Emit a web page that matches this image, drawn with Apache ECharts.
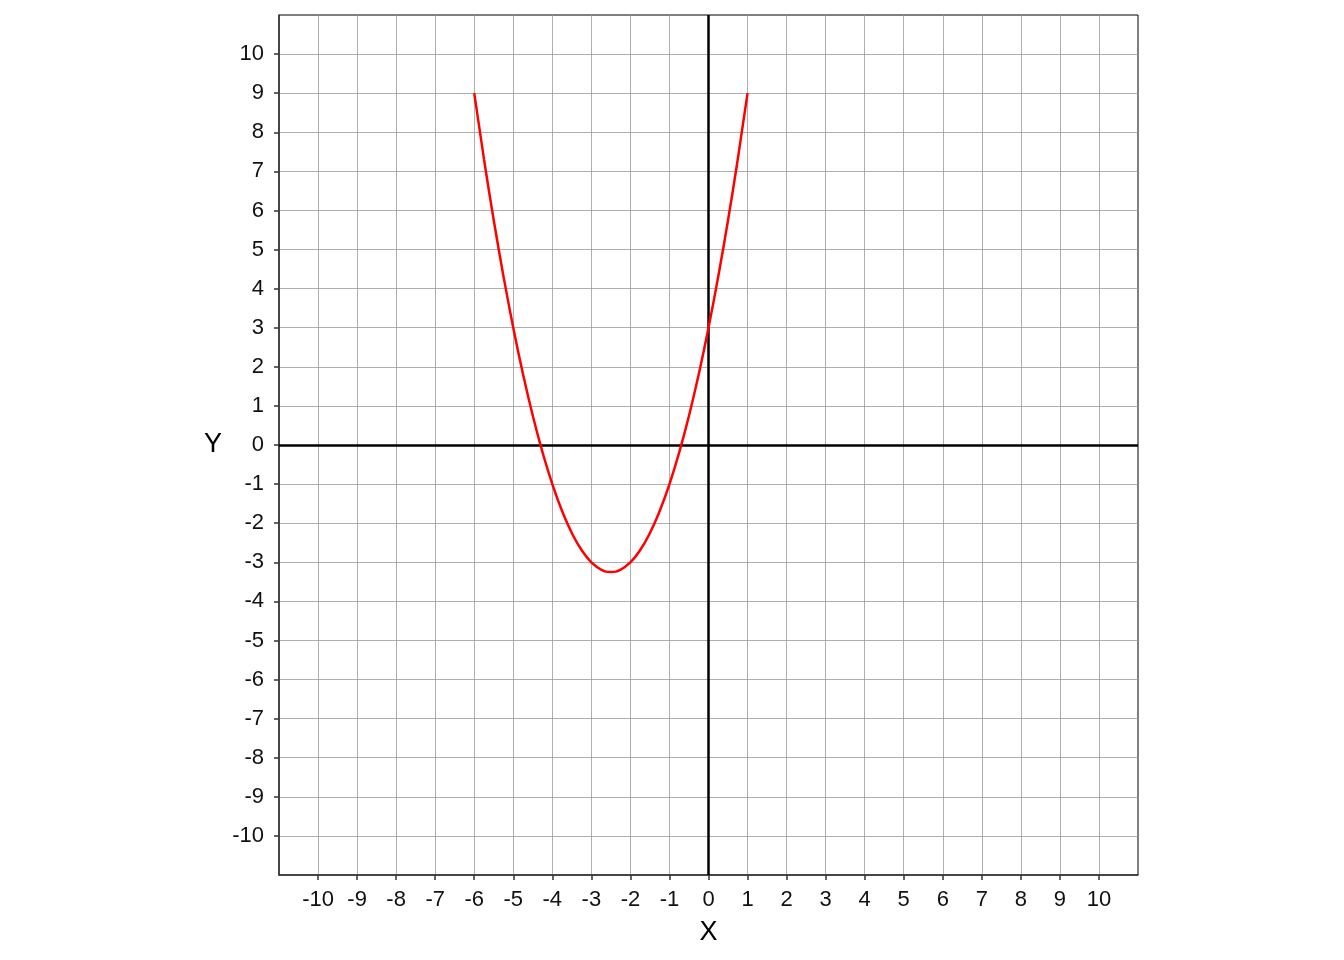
<!DOCTYPE html>
<html>
<head>
<meta charset="utf-8">
<script src="https://cdn.jsdelivr.net/npm/echarts@6/dist/echarts.min.js"></script>
<style>html,body{margin:0;padding:0;background:#fff}#c{width:1344px;height:960px}</style>
</head>
<body>
<div id="c"></div>
<script>
const xValues = [-6, -5.75, -5.5, -5.25, -5, -4.75, -4.5, -4.25, -4, -3.75, -3.5, -3.25, -3, -2.75, -2.5, -2.25, -2, -1.75, -1.5, -1.25, -1, -0.75, -0.5, -0.25, 0, 0.25, 0.5, 0.75, 1];
const yValues = [9, 7.3125, 5.75, 4.3125, 3, 1.8125, 0.75, -0.1875, -1, -1.6875, -2.25, -2.6875, -3, -3.1875, -3.25, -3.1875, -3, -2.6875, -2.25, -1.6875, -1, -0.1875, 0.75, 1.8125, 3, 4.3125, 5.75, 7.3125, 9];
const tickValues = [-10, -9, -8, -7, -6, -5, -4, -3, -2, -1, 0, 1, 2, 3, 4, 5, 6, 7, 8, 9, 10];
const axisMin = -11, axisMax = 11;

const chart = echarts.init(document.getElementById('c'));
const font = 'Liberation Sans, Arial, sans-serif';
function axisCommon(name) {
  return {
    type: 'value', min: axisMin, max: axisMax, interval: 1,
    name: name, nameLocation: 'middle',
    nameTextStyle: { fontFamily: font, fontSize: 27, color: '#000' },
    axisLine: { show: true, onZero: false, lineStyle: { color: '#333', width: 1.5 } },
    axisTick: { show: true, length: 5, lineStyle: { color: '#333', width: 1.5 }, customValues: tickValues },
    axisLabel: { fontFamily: font, fontSize: 22, color: '#111', customValues: tickValues },
    splitLine: { show: true, lineStyle: { color: '#9a9a9a', width: 0.8 } }
  };
}
const xAxis = axisCommon('X');
xAxis.nameGap = 44;
xAxis.axisLabel.margin = 14;
const yAxis = axisCommon('Y');
yAxis.nameGap = 57;
yAxis.nameRotate = 0;
yAxis.axisLabel.margin = 15;

chart.setOption({
  animation: false,
  grid: { left: 279, right: 206, top: 15, bottom: 85, outerBoundsMode: 'none', containLabel: false, show: true, borderColor: '#000', borderWidth: 1 },
  xAxis: xAxis,
  yAxis: yAxis,
  series: [{
    type: 'line',
    data: xValues.map((x, i) => [x, yValues[i]]),
    smooth: true,
    showSymbol: false,
    lineStyle: { color: '#ff0000', width: 2.5 },
    z: 5,
    markLine: {
      silent: true, symbol: 'none', label: { show: false },
      lineStyle: { color: '#000', width: 2.5, type: 'solid' },
      data: [{ xAxis: 0 }, { yAxis: 0 }]
    }
  }]
});
</script>
</body>
</html>
